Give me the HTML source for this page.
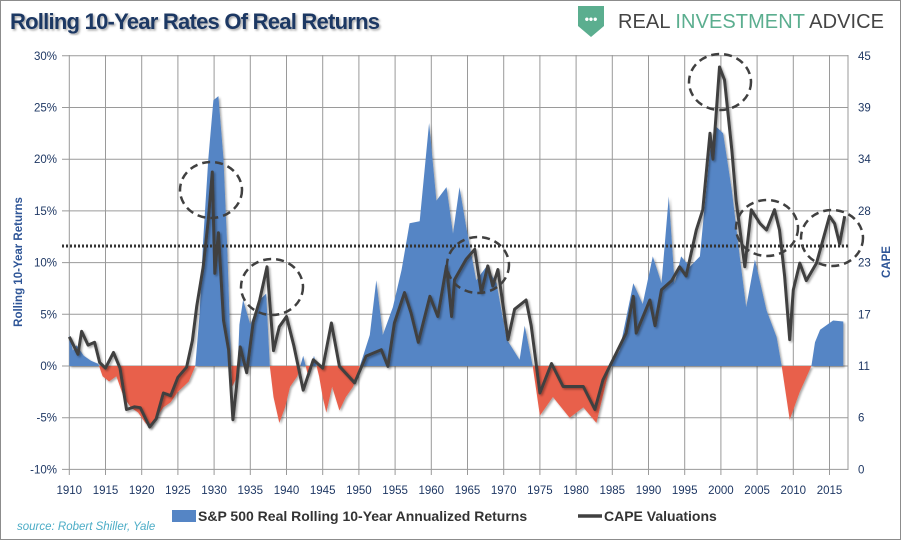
<!DOCTYPE html>
<html><head><meta charset="utf-8"><style>
body{margin:0;background:#fff;}
svg{display:block;font-family:"Liberation Sans Narrow","Liberation Sans",sans-serif;}
</style></head><body>
<svg id="chart" width="902" height="541" viewBox="0 0 902 541" xmlns="http://www.w3.org/2000/svg">
<defs>
<filter id="sh" x="-5%" y="-5%" width="110%" height="110%"><feDropShadow dx="1.5" dy="1.5" stdDeviation="1" flood-color="#000" flood-opacity="0.35"/></filter>
<clipPath id="clipPos"><rect x="60" y="40" width="800" height="326"/></clipPath>
<clipPath id="clipNeg"><rect x="60" y="366" width="800" height="110"/></clipPath>
</defs>
<rect x="0.5" y="0.5" width="900" height="539" fill="#fff" stroke="#8c8c8c"/>
<text x="10" y="29" font-size="22" font-weight="bold" fill="#1F3864" textLength="370" filter="url(#sh)">Rolling 10-Year Rates Of Real Returns</text>
<g>
<path d="M578 6 H604 V26 L591 37 L578 26 Z" fill="#5BAE8F"/>
<text x="591" y="23" font-size="12" fill="#fff" text-anchor="middle" font-weight="bold">•••</text>
<text x="618" y="28" font-size="20" fill="#444" font-family="Liberation Sans, sans-serif" textLength="266">REAL <tspan fill="#5BAE8F">INVESTMENT</tspan> ADVICE</text>
</g>
<g id="grid"></g>
<g id="bars"></g>
<g id="lines"></g>
<g id="axes"></g>
<text transform="translate(22,262) rotate(-90)" font-size="11.5" font-weight="bold" fill="#2E5597" text-anchor="middle">Rolling 10-Year Returns</text>
<text transform="translate(890,262) rotate(-90)" font-size="11.5" font-weight="bold" fill="#2E5597" text-anchor="middle">CAPE</text>
<g>
<rect x="172" y="510" width="24" height="12" fill="#5585C5"/>
<text x="198" y="521" font-size="14" font-weight="bold" fill="#333">S&amp;P 500 Real Rolling 10-Year Annualized Returns</text>
<line x1="578" y1="516" x2="602" y2="516" stroke="#404040" stroke-width="3.5"/>
<text x="604" y="521" font-size="14" font-weight="bold" fill="#333">CAPE Valuations</text>
</g>
<text x="17" y="530" font-size="11.5" font-style="italic" fill="#4BACC6">source: Robert Shiller, Yale</text>
</svg>
<script>
const leftTicks = [30,25,20,15,10,5,0,-5,-10];
const rightTicks = [45,39,34,28,23,17,11,6,0];
const xTickYears = [1910,1915,1920,1925,1930,1935,1940,1945,1950,1955,1960,1965,1970,1975,1980,1985,1990,1995,2000,2005,2010,2015];
const avgReturn = 11.6;
const returnYears = [1910,1910.5,1911,1912,1913,1914,1914.6,1915.5,1916.5,1917.5,1918.5,1919.5,1920.5,1921.2,1922,1923,1924,1925,1926.5,1927.4,1928,1928.5,1929.2,1929.9,1930.6,1931.3,1931.8,1932.2,1932.5,1933.2,1933.5,1934,1935,1936.3,1937.2,1937.7,1938.2,1939,1939.8,1940.5,1941.5,1942.3,1943,1943.8,1944.5,1945,1945.5,1946.3,1947.3,1948.2,1949.2,1950.6,1951.5,1952.4,1953.3,1954.7,1955.9,1957,1958.4,1959.7,1960.7,1962.1,1963,1963.9,1964.8,1966.2,1967.6,1969,1970.4,1972.2,1972.9,1974,1975,1976.8,1979.1,1981,1982.8,1984.7,1986,1987.9,1989.2,1990.6,1991.8,1992.8,1993.6,1994.5,1995.7,1997.1,1998.5,1999.4,2000.3,2001.5,2002.6,2003.5,2004.7,2006.3,2007.7,2008.4,2009.5,2010.9,2012.5,2013,2013.7,2015.5,2016.9];
const returnValues = [3,1.5,2,1,0.5,0.2,-1,-1.5,-1,-3,-4,-4.5,-5.5,-6,-5,-4,-3.5,-2.5,-1.5,0,5,12.2,20,25.7,26.1,20,11.8,3.3,-2,-1,4,6.4,4,6.4,7,0,-3,-5.5,-4,-2,-1,1,-1,1,-1,-3,-4.5,-2,-4.3,-3,-2,1,3,8.3,3,5.7,9.3,13.8,14,23.5,16,17.3,12.8,17.3,13.5,8.3,9.6,8,2.6,0.6,3.9,0,-4.8,-3,-5,-4,-5.5,0,1.5,8,6,10.6,8,16.4,8,10.6,9.6,10.6,20.9,23.1,22.5,17,10.6,5.7,10.3,5.4,2.8,0,-5.2,-2.5,0,2.3,3.5,4.4,4.3];
const capeYears = [1910,1911.2,1911.7,1912.6,1913.5,1914.2,1915,1916.1,1917,1917.9,1919,1919.8,1921.1,1922,1923,1924,1925,1926.2,1927,1927.6,1928.5,1929.2,1929.75,1930.1,1930.6,1931.3,1932,1932.6,1933.1,1933.6,1934.5,1935.4,1936.3,1937.3,1938.2,1939,1940,1941,1942.3,1943.7,1945,1946.2,1947.3,1949.4,1951,1953.1,1954,1954.9,1956.3,1957.2,1958.2,1959.8,1960.9,1962.1,1962.8,1963.2,1964.8,1966,1966.9,1967.8,1968.5,1969.2,1970.6,1971.5,1973.1,1973.8,1975,1976.6,1978.2,1981,1982.6,1983.7,1985.6,1986.9,1987.9,1988.3,1990.2,1990.9,1991.8,1993.2,1994.3,1995.2,1996.6,1997.5,1998.5,1998.9,1999.8,2000.5,2001.5,2002.1,2003.3,2004.2,2005.4,2006.3,2007.4,2008.1,2008.8,2009.5,2010,2010.9,2011.8,2013.2,2015,2015.7,2016.4,2017.1];
const capeValues = [14.4,12.5,15,13.5,13.8,11.6,11,12.7,11,6.5,6.8,6.7,4.6,5.5,8.3,8,10,11.1,14,17.7,22,27.1,32.3,21.3,25.7,16.2,13,5.4,9,13.3,10.5,16,18.4,22,12.9,15.5,16.6,13.5,8.6,11.9,11,15.9,11.2,9.4,12.3,13,11.2,15.9,19.2,17,13.8,18.8,16.6,22.1,16.6,20.6,22.8,23.9,19.2,22.1,19.9,21.7,14.1,17.4,18.4,15.6,8.3,11.5,9,9,6.5,9.7,12.7,14.8,18.8,14.8,18.4,15.6,19.5,20.5,22,21,26,28.2,36.5,33.7,43.7,42.3,34.7,29.2,22,28.2,26.7,26,28.2,26,21,14.1,19.5,22.4,20.5,22.4,27.5,26.7,24.5,27.5];

const NS = "http://www.w3.org/2000/svg";
const X0 = 69.3, PXY = 7.24;
const xs = yr => X0 + (yr - 1910) * PXY;
const yL = v => 366 - v * 10.34;
const yR = c => 469.4 - c * 414.4 / 45;
function mk(tag, attrs, parent){const e=document.createElementNS(NS,tag);for(const k in attrs)e.setAttribute(k,attrs[k]);parent.appendChild(e);return e;}

const grid = document.getElementById('grid'), axes = document.getElementById('axes');
leftTicks.forEach((t,i)=>{
  const y = yL(t);
  const l = mk('line',{x1:62,x2:848,y1:y,y2:y,stroke:'#9a9a9a','stroke-width':1},grid);
  
  
  const tl = mk('text',{x:57,y:y+4,'font-size':11.5,'text-anchor':'end',fill:'#1F3864'},axes);
  tl.textContent = t + '%';
  
  
  const tr = mk('text',{x:858,y:y+4,'font-size':11.5,fill:'#1F3864'},axes);
  tr.textContent = rightTicks[i];
  
  
});
xTickYears.forEach(yr=>{
  const x = xs(yr);
  const l = mk('line',{x1:x,x2:x,y1:55,y2:475,stroke:'#9a9a9a','stroke-width':1},grid);
  
  
  const t = mk('text',{x:x,y:494,'font-size':11.5,'text-anchor':'middle',fill:'#1F3864'},axes);
  t.textContent = yr;
  
  
});
mk('line',{x1:848,x2:848,y1:55,y2:470,stroke:'#9a9a9a'},grid);

const bars = document.getElementById('bars');
let d = 'M' + xs(returnYears[0]) + ' ' + yL(0);
returnYears.forEach((yr,i)=>{ d += ' L' + xs(yr).toFixed(1) + ' ' + yL(returnValues[i]).toFixed(1); });
d += ' L' + xs(returnYears[returnYears.length-1]) + ' ' + yL(0) + ' Z';
const pos = mk('path',{d:d,fill:'#5585C5','clip-path':'url(#clipPos)',filter:'url(#sh)'},bars);


const neg = mk('path',{d:d,fill:'#E8604C','clip-path':'url(#clipNeg)',filter:'url(#sh)'},bars);



const lines = document.getElementById('lines');
const avg = mk('line',{x1:62,x2:848,y1:yL(avgReturn),y2:yL(avgReturn),stroke:'#333','stroke-width':3,'stroke-dasharray':'2 2'},lines);


let pd = '';
capeYears.forEach((yr,i)=>{ pd += (i?' L':'M') + xs(yr).toFixed(1) + ' ' + yR(capeValues[i]).toFixed(1); });
const cl = mk('path',{d:pd,fill:'none',stroke:'#404040','stroke-width':3,'stroke-linejoin':'round',filter:'url(#sh)'},lines);



const ellipses = [[211,190],[272,287],[478,265],[720,82],[767,228],[832,238]];
ellipses.forEach(e=>{
  const el = mk('ellipse',{cx:e[0],cy:e[1],rx:31,ry:28,fill:'none',stroke:'#404040','stroke-width':2.5,'stroke-dasharray':'8 5'},lines);
  
  
});
</script>
</body></html>
